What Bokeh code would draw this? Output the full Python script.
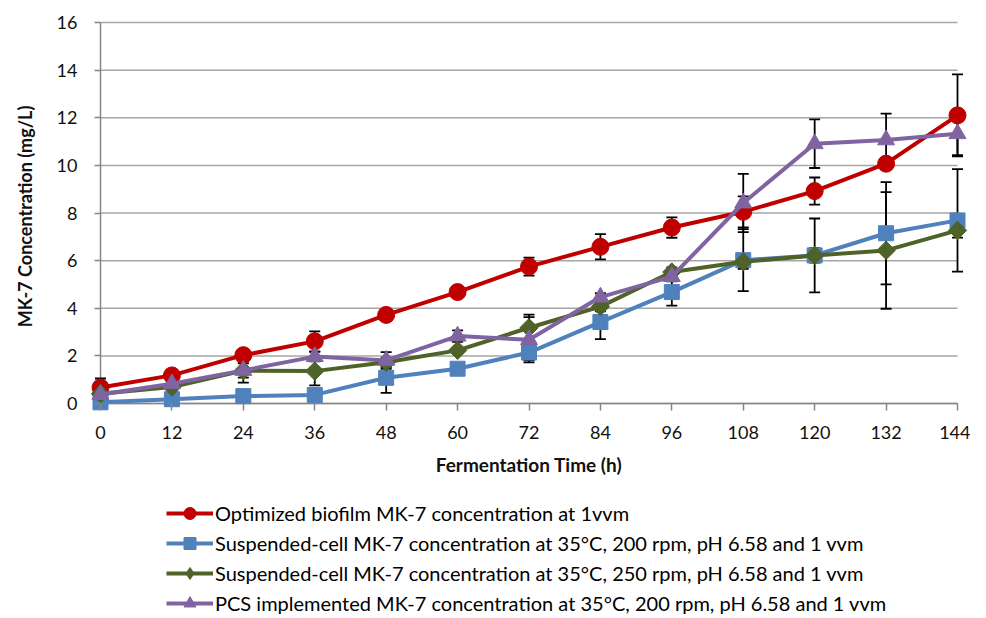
import math
from bokeh.plotting import figure
from bokeh.layouts import column
from bokeh.models import (ColumnDataSource, Whisker, TeeHead, Legend, LegendItem,
                          FixedTicker, Range1d)
from bokeh.embed import file_html
from bokeh.resources import INLINE

time_h = [0, 12, 24, 36, 48, 60, 72, 84, 96, 108, 120, 132, 144]
y_ticks = [0, 2, 4, 6, 8, 10, 12, 14, 16]

biofilm = [0.67, 1.18, 2.03, 2.61, 3.72, 4.68, 5.75, 6.58, 7.39, 8.05, 8.92, 10.07, 12.10]
biofilm_err = [0.38, 0.10, 0.10, 0.42, 0.10, 0.10, 0.38, 0.53, 0.43, 0.65, 0.57, 0.20, 1.72]

susp200 = [0.05, 0.18, 0.31, 0.36, 1.08, 1.46, 2.14, 3.42, 4.68, 6.02, 6.22, 7.15, 7.69]
susp200_err = [0.05, 0.10, 0.10, 0.10, 0.63, 0.10, 0.33, 0.72, 0.57, 1.30, 1.55, 2.15, 2.15]

susp250 = [0.41, 0.69, 1.38, 1.36, 1.73, 2.23, 3.18, 4.07, 5.52, 5.95, 6.22, 6.43, 7.27]
susp250_err = [0.10, 0.10, 0.50, 0.60, 0.20, 0.10, 0.55, 0.20, 0.20, 0.30, 0.30, 2.45, 0.30]

pcs = [0.38, 0.83, 1.39, 1.97, 1.81, 2.83, 2.68, 4.47, 5.33, 8.42, 10.91, 11.07, 11.33]
pcs_err = [0.10, 0.10, 0.30, 0.20, 0.35, 0.24, 0.95, 0.16, 0.20, 1.22, 1.02, 1.10, 0.90]

labels = [
    "Optimized biofilm MK-7 concentration at 1vvm",
    "Suspended-cell MK-7 concentration at 35\u00b0C, 200 rpm, pH 6.58 and 1 vvm",
    "Suspended-cell MK-7 concentration at 35\u00b0C, 250 rpm, pH 6.58 and 1 vvm",
    "PCS implemented MK-7 concentration at 35\u00b0C, 200 rpm, pH 6.58 and 1 vvm",
]
colors = ["#C00000", "#4F81BD", "#4F6228", "#8064A2"]
markers = ["circle", "square", "square", "triangle"]
leg_markers = ["circle", "square", "diamond", "triangle"]
angles = [0, 0, math.pi / 4, 0]
sizes = [17, 15, 13, 17]
leg_sizes = [13, 12, 14, 13]
series = [(biofilm, biofilm_err), (susp200, susp200_err), (susp250, susp250_err), (pcs, pcs_err)]

FONT = "Lato"
TXT = "#111111"
grid_col = "#A6A6A6"
axis_col = "#868686"

# layout (pixels)
W = 970
H_MAIN = 480
H_LEG = 136
PAD_L, PAD_R, PAD_T, PAD_B = 10, 10, 3, 10
PLOT_W, PLOT_H = 857, 381          # pixel span of the 0..144 / 0..16 area
LEFT, TOP, BOTTOM = 90, 19, 67

xmin, xmax = time_h[0], time_h[-1]
ymin, ymax = y_ticks[0], y_ticks[-1]
sx = PLOT_W / (xmax - xmin)
sy = PLOT_H / (ymax - ymin)

p = figure(width=W, height=H_MAIN, output_backend="svg", toolbar_location=None,
           x_range=Range1d(xmin - PAD_L / sx, xmax + PAD_R / sx),
           y_range=Range1d(ymin - PAD_B / sy, ymax + PAD_T / sy),
           min_border_left=LEFT, min_border_right=W - LEFT - PLOT_W - PAD_L - PAD_R,
           min_border_top=TOP, min_border_bottom=BOTTOM)
p.outline_line_color = None
p.background_fill_color = "white"
p.border_fill_color = "white"
p.grid.visible = False

# gridlines and axis lines, limited to the data area
p.segment(x0=[xmin] * len(y_ticks), x1=[xmax] * len(y_ticks), y0=y_ticks, y1=y_ticks,
          line_color=grid_col, line_width=1.5, level="underlay")
p.segment(x0=[xmin], x1=[xmax], y0=[ymin], y1=[ymin], line_color=axis_col, line_width=1.5,
          level="underlay")
p.segment(x0=[xmin], x1=[xmin], y0=[ymin], y1=[ymax], line_color=axis_col, line_width=1.5,
          level="underlay")

p.xaxis.ticker = FixedTicker(ticks=time_h)
p.yaxis.ticker = FixedTicker(ticks=y_ticks)
for ax in (p.xaxis[0], p.yaxis[0]):
    ax.axis_line_color = None
    ax.major_tick_line_color = axis_col
    ax.major_tick_line_width = 1.5
    ax.minor_tick_line_color = None
    ax.major_label_text_font = FONT
    ax.major_label_text_font_size = "18px"
    ax.major_label_text_color = TXT
    ax.axis_label_text_font = FONT
    ax.axis_label_text_font_style = "bold"
    ax.axis_label_text_color = TXT
p.xaxis.axis_label_text_font_size = "19px"
p.yaxis.axis_label_text_font_size = "18px"
p.xaxis.major_tick_in = PAD_B
p.xaxis.major_tick_out = -3
p.yaxis.major_tick_in = PAD_L
p.yaxis.major_tick_out = -4
p.xaxis.axis_label = "Fermentation Time (h)"
p.yaxis.axis_label = "MK-7 Concentration (mg/L)"
p.xaxis.major_label_standoff = 12
p.xaxis.axis_label_standoff = 11
p.yaxis.major_label_standoff = 13
p.yaxis.axis_label_standoff = 18

# legend figure (its ranges show none of the data; only the legend is visible)
p2 = figure(width=W, height=H_LEG, output_backend="svg", toolbar_location=None,
            x_axis_location=None, y_axis_location=None, min_border=0,
            x_range=Range1d(xmin - 20, xmin - 10), y_range=Range1d(ymin - 20, ymin - 10))
p2.outline_line_color = None
p2.grid.visible = False

items = []
for (vals, errs), lab, col, mk, lmk, ang, sz, lsz in zip(series, labels, colors, markers,
                                                         leg_markers, angles, sizes, leg_sizes):
    lower = [v - e for v, e in zip(vals, errs)]
    upper = [v + e for v, e in zip(vals, errs)]
    src = ColumnDataSource(dict(x=time_h, y=vals, lower=lower, upper=upper))
    w = Whisker(source=src, base="x", lower="lower", upper="upper", line_color="black",
                line_width=1.8,
                upper_head=TeeHead(size=11, line_color="black", line_width=1.8),
                lower_head=TeeHead(size=11, line_color="black", line_width=1.8),
                level="underlay")
    p.add_layout(w)
    p.line("x", "y", source=src, line_color=col, line_width=4)
    p.scatter("x", "y", source=src, marker=mk, angle=ang, size=sz, fill_color=col,
              line_color=col)

    ln = p2.line("x", "y", source=src, line_color=col, line_width=4)
    sc = p2.scatter("x", "y", source=src, marker=lmk, size=lsz, fill_color=col,
                    line_color=col)
    items.append(LegendItem(label=lab, renderers=[ln, sc]))

legend = Legend(items=items, location=(76, -2), orientation="vertical")
legend.label_text_font = FONT
legend.label_text_font_size = "20px"
legend.label_text_color = "#000000"
legend.glyph_width = 47
legend.glyph_height = 30
legend.label_height = 20
legend.spacing = 0
legend.label_standoff = 2
legend.padding = 0
legend.margin = 0
legend.border_line_color = None
legend.background_fill_alpha = 0
p2.add_layout(legend, "center")

open("out.html", "w").write(file_html(column(p, p2), INLINE))
